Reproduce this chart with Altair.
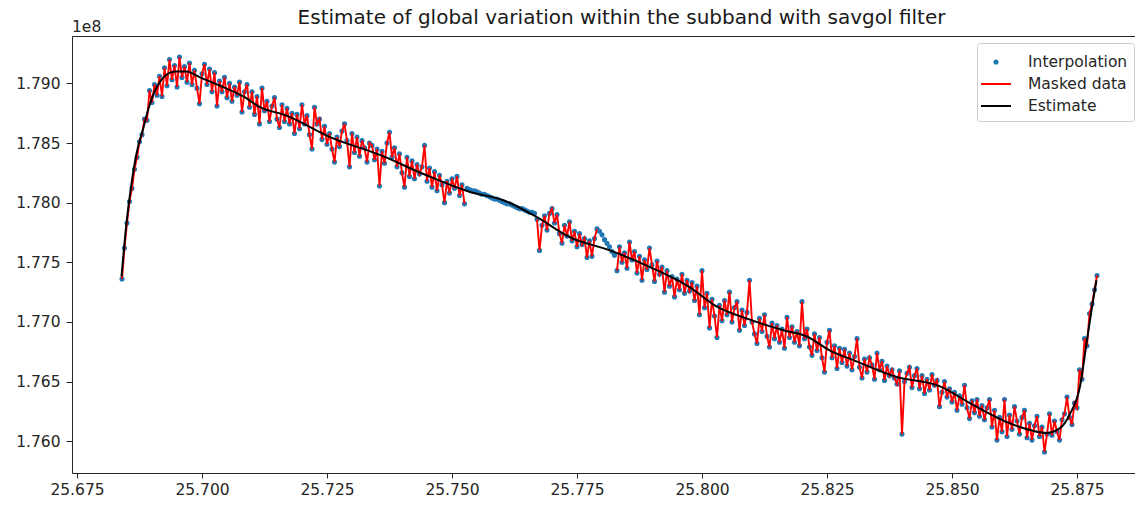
import altair as alt
import pandas as pd

TITLE = "Estimate of global variation within the subband with savgol filter"
NAMES = ["Interpolation", "Masked data", "Estimate"]
COLORS = ["#1f77b4", "#ff0000", "#000000"]
X_TICKS = [25.675, 25.700, 25.725, 25.750, 25.775, 25.800, 25.825, 25.850, 25.875]
Y_TICKS = [1.760, 1.765, 1.770, 1.775, 1.780, 1.785, 1.790]
OFFSET_TEXT = "1e8"

# frequency channels (x) and values (in units of 1e8)
FREQ = [
    25.6840, 25.6845, 25.6850, 25.6855, 25.6860, 25.6865, 25.6870, 25.6875, 25.6880, 25.6885,
    25.6890, 25.6895, 25.6900, 25.6905, 25.6910, 25.6915, 25.6920, 25.6925, 25.6930, 25.6935,
    25.6940, 25.6945, 25.6950, 25.6955, 25.6960, 25.6965, 25.6970, 25.6975, 25.6980, 25.6985,
    25.6990, 25.6995, 25.7000, 25.7005, 25.7010, 25.7015, 25.7020, 25.7025, 25.7030, 25.7035,
    25.7040, 25.7045, 25.7050, 25.7055, 25.7060, 25.7065, 25.7070, 25.7075, 25.7080, 25.7085,
    25.7090, 25.7095, 25.7100, 25.7105, 25.7110, 25.7115, 25.7120, 25.7125, 25.7130, 25.7135,
    25.7140, 25.7145, 25.7150, 25.7155, 25.7160, 25.7165, 25.7170, 25.7175, 25.7180, 25.7185,
    25.7190, 25.7195, 25.7200, 25.7205, 25.7210, 25.7215, 25.7220, 25.7225, 25.7230, 25.7235,
    25.7240, 25.7245, 25.7250, 25.7255, 25.7260, 25.7265, 25.7270, 25.7275, 25.7280, 25.7285,
    25.7290, 25.7295, 25.7300, 25.7305, 25.7310, 25.7315, 25.7320, 25.7325, 25.7330, 25.7335,
    25.7340, 25.7345, 25.7350, 25.7355, 25.7360, 25.7365, 25.7370, 25.7375, 25.7380, 25.7385,
    25.7390, 25.7395, 25.7400, 25.7405, 25.7410, 25.7415, 25.7420, 25.7425, 25.7430, 25.7435,
    25.7440, 25.7445, 25.7450, 25.7455, 25.7460, 25.7465, 25.7470, 25.7475, 25.7480, 25.7485,
    25.7490, 25.7495, 25.7500, 25.7505, 25.7510, 25.7515, 25.7520, 25.7525, 25.7530, 25.7535,
    25.7540, 25.7545, 25.7550, 25.7555, 25.7560, 25.7565, 25.7570, 25.7575, 25.7580, 25.7585,
    25.7590, 25.7595, 25.7600, 25.7605, 25.7610, 25.7615, 25.7620, 25.7625, 25.7630, 25.7635,
    25.7640, 25.7645, 25.7650, 25.7655, 25.7660, 25.7665, 25.7670, 25.7675, 25.7680, 25.7685,
    25.7690, 25.7695, 25.7700, 25.7705, 25.7710, 25.7715, 25.7720, 25.7725, 25.7730, 25.7735,
    25.7740, 25.7745, 25.7750, 25.7755, 25.7760, 25.7765, 25.7770, 25.7775, 25.7780, 25.7785,
    25.7790, 25.7795, 25.7800, 25.7805, 25.7810, 25.7815, 25.7820, 25.7825, 25.7830, 25.7835,
    25.7840, 25.7845, 25.7850, 25.7855, 25.7860, 25.7865, 25.7870, 25.7875, 25.7880, 25.7885,
    25.7890, 25.7895, 25.7900, 25.7905, 25.7910, 25.7915, 25.7920, 25.7925, 25.7930, 25.7935,
    25.7940, 25.7945, 25.7950, 25.7955, 25.7960, 25.7965, 25.7970, 25.7975, 25.7980, 25.7985,
    25.7990, 25.7995, 25.8000, 25.8005, 25.8010, 25.8015, 25.8020, 25.8025, 25.8030, 25.8035,
    25.8040, 25.8045, 25.8050, 25.8055, 25.8060, 25.8065, 25.8070, 25.8075, 25.8080, 25.8085,
    25.8090, 25.8095, 25.8100, 25.8105, 25.8110, 25.8115, 25.8120, 25.8125, 25.8130, 25.8135,
    25.8140, 25.8145, 25.8150, 25.8155, 25.8160, 25.8165, 25.8170, 25.8175, 25.8180, 25.8185,
    25.8190, 25.8195, 25.8200, 25.8205, 25.8210, 25.8215, 25.8220, 25.8225, 25.8230, 25.8235,
    25.8240, 25.8245, 25.8250, 25.8255, 25.8260, 25.8265, 25.8270, 25.8275, 25.8280, 25.8285,
    25.8290, 25.8295, 25.8300, 25.8305, 25.8310, 25.8315, 25.8320, 25.8325, 25.8330, 25.8335,
    25.8340, 25.8345, 25.8350, 25.8355, 25.8360, 25.8365, 25.8370, 25.8375, 25.8380, 25.8385,
    25.8390, 25.8395, 25.8400, 25.8405, 25.8410, 25.8415, 25.8420, 25.8425, 25.8430, 25.8435,
    25.8440, 25.8445, 25.8450, 25.8455, 25.8460, 25.8465, 25.8470, 25.8475, 25.8480, 25.8485,
    25.8490, 25.8495, 25.8500, 25.8505, 25.8510, 25.8515, 25.8520, 25.8525, 25.8530, 25.8535,
    25.8540, 25.8545, 25.8550, 25.8555, 25.8560, 25.8565, 25.8570, 25.8575, 25.8580, 25.8585,
    25.8590, 25.8595, 25.8600, 25.8605, 25.8610, 25.8615, 25.8620, 25.8625, 25.8630, 25.8635,
    25.8640, 25.8645, 25.8650, 25.8655, 25.8660, 25.8665, 25.8670, 25.8675, 25.8680, 25.8685,
    25.8690, 25.8695, 25.8700, 25.8705, 25.8710, 25.8715, 25.8720, 25.8725, 25.8730, 25.8735,
    25.8740, 25.8745, 25.8750, 25.8755, 25.8760, 25.8765, 25.8770, 25.8775, 25.8780, 25.8785,
    25.8790,
]
VALUE = [
    1.7736, 1.7762, 1.7783, 1.7801, 1.7812, 1.7828, 1.7838, 1.7851, 1.7857, 1.7870,
    1.7869, 1.7894, 1.7884, 1.7899, 1.7890, 1.7906, 1.7889, 1.7913, 1.7898, 1.7920,
    1.7903, 1.7915, 1.7897, 1.7922, 1.7905, 1.7914, 1.7901, 1.7917, 1.7899, 1.7911,
    1.7896, 1.7883, 1.7908, 1.7916, 1.7899, 1.7912, 1.7893, 1.7909, 1.7881, 1.7902,
    1.7893, 1.7905, 1.7888, 1.7900, 1.7885, 1.7897, 1.7890, 1.7901, 1.7876, 1.7893,
    1.7899, 1.7880, 1.7893, 1.7874, 1.7889, 1.7866, 1.7896, 1.7877, 1.7885, 1.7868,
    1.7881, 1.7888, 1.7870, 1.7863, 1.7882, 1.7868, 1.7879, 1.7866, 1.7875, 1.7858,
    1.7874, 1.7862, 1.7882, 1.7866, 1.7873, 1.7857, 1.7845, 1.7880, 1.7866, 1.7870,
    1.7853, 1.7864, 1.7849, 1.7858, 1.7845, 1.7834, 1.7855, 1.7847, 1.7860, 1.7866,
    1.7852, 1.7830, 1.7858, 1.7842, 1.7855, 1.7839, 1.7852, 1.7846, 1.7834, 1.7850,
    1.7848, 1.7836, 1.7845, 1.7814, 1.7843, 1.7833, 1.7850, 1.7859, 1.7838, 1.7846,
    1.7830, 1.7841, 1.7825, 1.7813, 1.7838, 1.7822, 1.7835, 1.7820, 1.7832, 1.7824,
    1.7830, 1.7848, 1.7818, 1.7829, 1.7813, 1.7826, 1.7810, 1.7823, 1.7815, 1.7800,
    1.7818, 1.7808, 1.7820, 1.7812, 1.7822, 1.7806, 1.7815, 1.7799, 1.7812, 1.7811,
    1.7810, 1.7810, 1.7809, 1.7808, 1.7807, 1.7807, 1.7806, 1.7805, 1.7804, 1.7803,
    1.7803, 1.7802, 1.7801, 1.7800, 1.7799, 1.7799, 1.7798, 1.7797, 1.7796, 1.7795,
    1.7795, 1.7794, 1.7793, 1.7792, 1.7792, 1.7791, 1.7786, 1.7760, 1.7781, 1.7789,
    1.7777, 1.7791, 1.7795, 1.7783, 1.7790, 1.7774, 1.7766, 1.7781, 1.7772, 1.7784,
    1.7768, 1.7776, 1.7763, 1.7774, 1.7765, 1.7770, 1.7754, 1.7768, 1.7755, 1.7770,
    1.7778, 1.7776, 1.7773, 1.7769, 1.7766, 1.7763, 1.7759, 1.7756, 1.7743, 1.7763,
    1.7750, 1.7758, 1.7745, 1.7767, 1.7752, 1.7759, 1.7741, 1.7755, 1.7735, 1.7752,
    1.7744, 1.7762, 1.7748, 1.7734, 1.7751, 1.7740, 1.7746, 1.7725, 1.7743, 1.7730,
    1.7738, 1.7721, 1.7736, 1.7727, 1.7740, 1.7724, 1.7735, 1.7726, 1.7733, 1.7718,
    1.7730, 1.7706, 1.7743, 1.7712, 1.7724, 1.7695, 1.7719, 1.7705, 1.7687, 1.7714,
    1.7701, 1.7718, 1.7706, 1.7725, 1.7700, 1.7712, 1.7717, 1.7693, 1.7710, 1.7697,
    1.7708, 1.7735, 1.7700, 1.7690, 1.7682, 1.7703, 1.7692, 1.7706, 1.7688, 1.7679,
    1.7699, 1.7686, 1.7697, 1.7683, 1.7694, 1.7678, 1.7704, 1.7687, 1.7696, 1.7683,
    1.7692, 1.7680, 1.7717, 1.7686, 1.7694, 1.7679, 1.7672, 1.7690, 1.7676, 1.7687,
    1.7670, 1.7658, 1.7683, 1.7693, 1.7670, 1.7680, 1.7661, 1.7678, 1.7666, 1.7677,
    1.7663, 1.7674, 1.7660, 1.7671, 1.7686, 1.7662, 1.7653, 1.7669, 1.7658, 1.7670,
    1.7664, 1.7652, 1.7674, 1.7660, 1.7667, 1.7651, 1.7663, 1.7655, 1.7660, 1.7653,
    1.7648, 1.7659, 1.7606, 1.7650, 1.7657, 1.7662, 1.7645, 1.7655, 1.7661, 1.7644,
    1.7655, 1.7640, 1.7652, 1.7643, 1.7656, 1.7647, 1.7651, 1.7629, 1.7641, 1.7650,
    1.7637, 1.7644, 1.7633, 1.7641, 1.7626, 1.7638, 1.7631, 1.7647, 1.7628, 1.7619,
    1.7634, 1.7624, 1.7635, 1.7621, 1.7630, 1.7618, 1.7628, 1.7635, 1.7612, 1.7626,
    1.7601, 1.7620, 1.7608, 1.7635, 1.7604, 1.7622, 1.7610, 1.7629, 1.7617, 1.7606,
    1.7620, 1.7626, 1.7603, 1.7615, 1.7601, 1.7613, 1.7621, 1.7604, 1.7612, 1.7591,
    1.7606, 1.7623, 1.7605, 1.7617, 1.7608, 1.7601, 1.7618, 1.7623, 1.7637, 1.7620,
    1.7614, 1.7632, 1.7628, 1.7660, 1.7652, 1.7686, 1.7680, 1.7707, 1.7715, 1.7727,
    1.7739,
]
# frequency ranges where the data is masked (only interpolation shown)
MASK_GAPS = [(25.7528, 25.7667), (25.7793, 25.7827)]

# savgol estimate
EST_FREQ = [
    25.6839, 25.6849, 25.6859, 25.6869, 25.6883, 25.6893, 25.6903, 25.6923, 25.6936, 25.6949,
    25.6969, 25.6996, 25.7036, 25.7083, 25.7116, 25.7169, 25.7256, 25.7356, 25.7443, 25.7536,
    25.7603, 25.7669, 25.7736, 25.7816, 25.7896, 25.7976, 25.8029, 25.8096, 25.8163, 25.8209,
    25.8256, 25.8303, 25.8389, 25.8476, 25.8536, 25.8616, 25.8660, 25.8689, 25.8716, 25.8736,
    25.8756, 25.8769, 25.8779, 25.8789,
]
EST_VALUE = [
    1.7738, 1.7783, 1.7816, 1.7841, 1.7863, 1.7879, 1.7891, 1.7905, 1.7909, 1.7910,
    1.7910, 1.7905, 1.7898, 1.7889, 1.7880, 1.7873, 1.7855, 1.7840, 1.7824, 1.7809,
    1.7802, 1.7788, 1.7771, 1.7760, 1.7746, 1.7729, 1.7713, 1.7702, 1.7693, 1.7688,
    1.7676, 1.7668, 1.7654, 1.7646, 1.7632, 1.7615, 1.7609, 1.7607, 1.7611, 1.7623,
    1.7646, 1.7682, 1.7710, 1.7735,
]

masked = [any(a <= f <= b for a, b in MASK_GAPS) for f in FREQ]
seg = [sum(f > b for a, b in MASK_GAPS) for f in FREQ]
pts = pd.DataFrame({"x": FREQ, "y": VALUE, "series": NAMES[0], "masked": masked, "seg": seg})
red = pts[~pts["masked"]].copy()
est = pd.DataFrame({"x": EST_FREQ, "y": EST_VALUE})

FONT = "DejaVu Sans"
INK = "#262626"
xs = alt.Scale(domain=[25.674, 25.8866], nice=False, zero=False)
ys = alt.Scale(domain=[1.75734, 1.79397], nice=False, zero=False)

x_axis = alt.Axis(values=X_TICKS, format=".3f", title=None, grid=False, tickSize=5,
                  labelPadding=4, labelFontSize=15.5, labelFont=FONT, labelColor=INK,
                  tickColor=INK, domainColor=INK, labelFlush=False, labelOverlap=False)
y_axis = alt.Axis(values=Y_TICKS, format=".3f", title=None, grid=False, tickSize=6,
                  labelPadding=6, labelFontSize=15.5, labelFont=FONT, labelColor=INK,
                  tickColor=INK, domainColor=INK, labelFlush=False, labelOverlap=False)
top_axis = alt.Axis(orient="top", labels=False, ticks=False, domain=True, grid=False,
                    title=None, domainColor=INK)

DOT = "M-0.13,0A0.13,0.13,0,1,1,0.13,0A0.13,0.13,0,1,1,-0.13,0Z"
LINE = "M-1.25,0H1.25"
leg = alt.Legend(title=None, orient="none", legendX=905, legendY=7, symbolSize=576,
                 symbolStrokeWidth=2, labelFontSize=15.5, labelFont=FONT, labelColor=INK,
                 labelOffset=19, padding=6, rowPadding=0, fillColor="white",
                 strokeColor="#cccccc", cornerRadius=3)

dots = alt.Chart(pts).mark_point(filled=True, size=576, strokeWidth=2, opacity=1).encode(
    x=alt.X("x:Q", scale=xs, axis=x_axis),
    y=alt.Y("y:Q", scale=ys, axis=y_axis),
    fill=alt.Fill("series:N", scale=alt.Scale(domain=NAMES, range=COLORS), legend=leg),
    stroke=alt.Stroke("series:N", scale=alt.Scale(domain=NAMES, range=COLORS), legend=leg),
    shape=alt.Shape("series:N", scale=alt.Scale(domain=NAMES, range=[DOT, LINE, LINE]), legend=leg),
)
redline = alt.Chart(red).mark_line(color="#ff0000", strokeWidth=1.9).encode(
    x=alt.X("x:Q", scale=xs, axis=None),
    y=alt.Y("y:Q", scale=ys, axis=y_axis),
    detail="seg:N",
)
estline = alt.Chart(est).mark_line(color="#000000", strokeWidth=2, interpolate="monotone").encode(
    x=alt.X("x:Q", scale=xs, axis=top_axis),
    y=alt.Y("y:Q", scale=ys, axis=y_axis),
)
offset = alt.Chart(pd.DataFrame({"t": [OFFSET_TEXT]})).mark_text(
    align="left", baseline="alphabetic", fontSize=15.5, font=FONT, color=INK
).encode(text="t:N", x=alt.value(0), y=alt.value(-4))

chart = (
    alt.layer(dots, redline, estline, offset)
    .resolve_axis(x="independent")
    .properties(
        width=1063, height=437,
        title=alt.TitleParams(text=TITLE, font=FONT, fontSize=20, fontWeight="normal",
                              color="#1a1a1a", anchor="middle", frame="group", dx=18,
                              offset=9, dy=17),
        padding={"left": 72, "top": 36, "right": 0, "bottom": 33},
        autosize=alt.AutoSizeParams(type="none"),
    )
    .configure_view(stroke=None)
    .configure(background="white")
)
chart.save("out.html", embed_options={"renderer": "svg", "actions": False})
